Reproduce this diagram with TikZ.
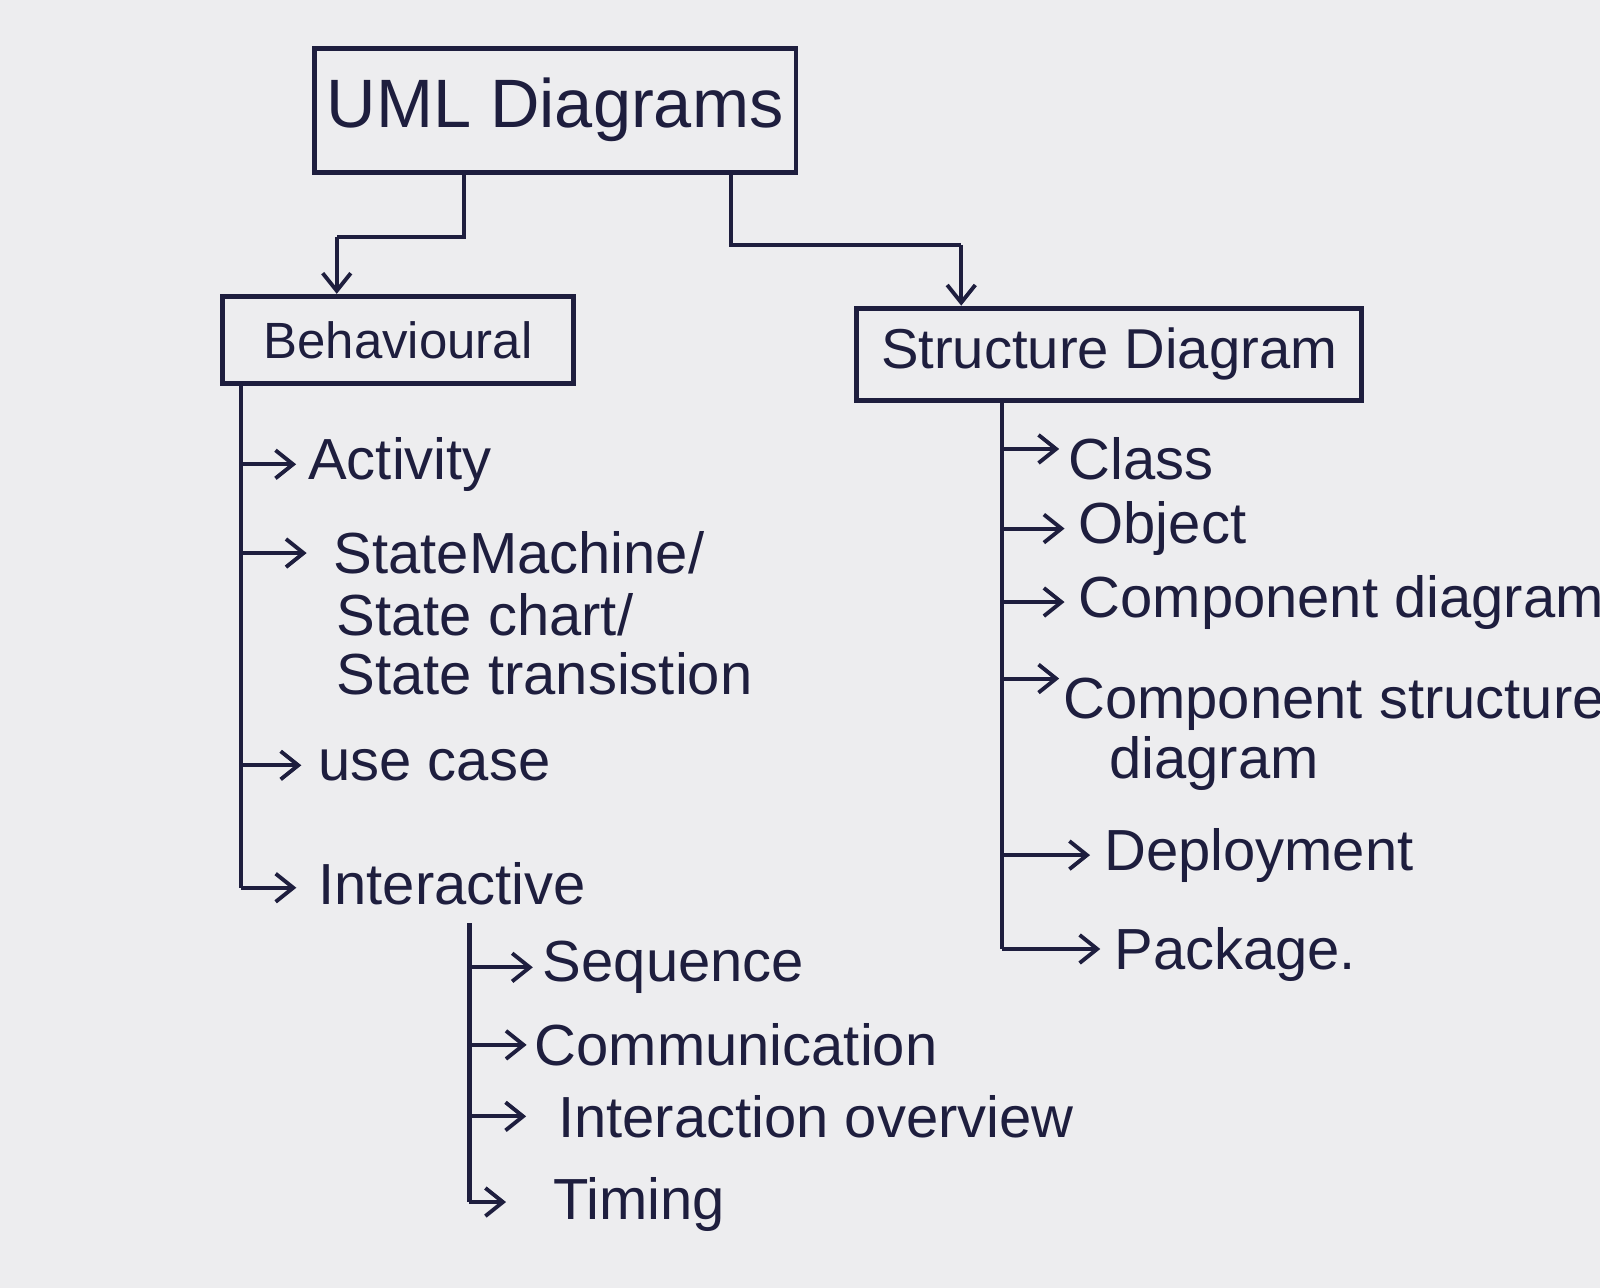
\documentclass[tikz,border=0pt]{standalone}
\usepackage{fontspec}
\setmainfont{Liberation Sans}
\usetikzlibrary{arrows.meta}
\definecolor{paper}{RGB}{237,237,239}
\definecolor{ink}{RGB}{30,30,62}
\begin{document}
\begin{tikzpicture}[x=0.010204cm,y=-0.010204cm,
  line width=1.2pt, draw=ink, text=ink,
  box/.style={draw=ink, line width=1.4pt, inner sep=0pt},
  item/.style={anchor=west, inner sep=0pt, font=\fontsize{16.5}{17}\selectfont},
  arr/.style={-{Straight Barb[length=5pt,width=8pt]}, line width=1.1pt},
  link/.style={line width=1.2pt}]
\fill[paper] (0,0) rectangle (1568,1262);
\useasboundingbox (0,0) rectangle (1568,1262);

% boxes
\node[box, minimum width=4.82cm, minimum height=1.24cm, font=\fontsize{19.5}{22}\selectfont] (uml) at (544,108) {UML Diagrams};
\node[box, minimum width=3.51cm, minimum height=0.87cm, font=\fontsize{14.5}{16}\selectfont] (beh) at (390,333) {Behavioural};
\node[box, minimum width=5.05cm, minimum height=0.92cm, font=\fontsize{16}{17}\selectfont] (str) at (1087,347) {Structure Diagram};

% top connectors
\coordinate (ul) at (455,232);
\coordinate (ur) at (716,240);
\draw[link] (uml.south -| ul) -- (ul) -- (330,232);
\draw[arr] (330,232) -- (beh.north -| 330,0);
\draw[link] (uml.south -| ur) -- (ur) -- (942,240);
\draw[arr] (942,240) -- (str.north -| 942,0);

% behavioural items
\node[item] (act) at (300,455) {Activity};
\node[item] (sm1) at (325,542) {StateMachine/};
\node[item] (sm2) at (328,602) {State chart/};
\node[item] (sm3) at (328,660) {State transistion};
\node[item] (uc) at (310,750) {use case};
\node[item] (int) at (310,866) {Interactive};

\coordinate (bt) at (236,0);
\coordinate (bb) at (236,870);
\draw[link] (beh.south -| bt) -- (bb);
\draw[arr] (act.west -| bt) -- ([xshift=-0.1cm]act.west);
\draw[arr] (sm1.west -| bt) -- ([xshift=-0.25cm]sm1.west);
\draw[arr] (uc.west -| bt) -- ([xshift=-0.15cm]uc.west);
\draw[arr] (bb) -- ([xshift=-0.2cm]int.west |- bb);

% interactive items
\node[item] (seq) at (530,948) {Sequence};
\node[item] (com) at (522,1024) {Communication};
\node[item] (iov) at (545,1094) {Interaction overview};
\node[item] (tim) at (540,1180) {Timing};

\coordinate (it) at (460,905);
\coordinate (ib) at (460,1178);
\draw[link] (it) -- (ib);
\draw[arr] (seq.west -| it) -- ([xshift=-0.08cm]seq.west);
\draw[arr] (com.west -| it) -- ([xshift=-0.06cm]com.west);
\draw[arr] (iov.west -| it) -- ([xshift=-0.3cm]iov.west);
\draw[arr] (ib) -- ([xshift=-0.45cm]tim.west |- ib);

% structure items
\node[item] (cls) at (1045,450) {Class};
\node[item] (obj) at (1055,518) {Object};
\node[item] (cmp) at (1055,590) {Component diagram};
\node[item] (cs1) at (1040,690) {Component structure};
\node[item] (cs2) at (1085,748) {diagram};
\node[item] (dep) at (1080,838) {Deployment};
\node[item] (pkg) at (1090,935) {Package.};

\coordinate (st) at (982,0);
\coordinate (sb) at (982,930);
\draw[link] (str.south -| st) -- (sb);
\draw[arr] (st |- 0,440) -- (1038,440);
\draw[arr] (obj.west -| st) -- ([xshift=-0.12cm]obj.west);
\draw[arr] (cmp.west -| st) -- ([xshift=-0.12cm]cmp.west);
\draw[arr] (st |- 0,665) -- (1038,665);
\draw[arr] (dep.west -| st) -- ([xshift=-0.12cm]dep.west);
\draw[arr] (sb) -- ([xshift=-0.12cm]pkg.west |- sb);
\end{tikzpicture}
\end{document}
